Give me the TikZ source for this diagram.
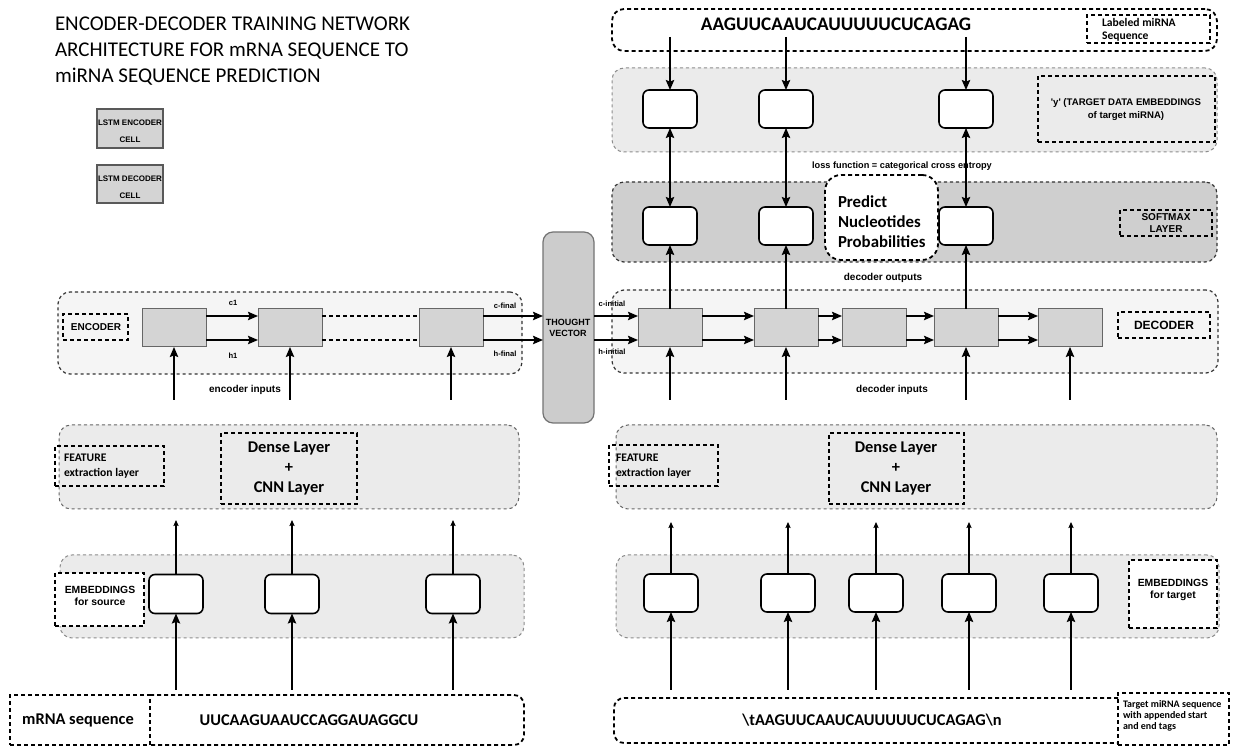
\documentclass[tikz,border=0pt]{standalone}
\usepackage{fontspec}
\setmainfont{Carlito}
\newfontfamily\arialfont{Liberation Sans}
\usetikzlibrary{arrows.meta,fit}
\begin{document}
\begin{tikzpicture}[x=0.5pt,y=-0.5pt,
  every node/.style={inner sep=0pt, outer sep=0pt},
  fitbox/.style={inner sep=0pt, outer sep=0pt},
  band/.style={fitbox, draw=black!45, fill=black!8, dash pattern=on 1.6pt off 1.4pt, line width=0.5pt, rounded corners=6pt},
  cellband/.style={band, draw=black!80, fill=black!4, line width=0.6pt},
  softband/.style={band, draw=black!80, fill=black!19, line width=0.6pt},
  featband/.style={band, draw=black!60},
  tagbox/.style={fitbox, draw=black, dash pattern=on 2pt off 1.5pt, line width=0.9pt},
  embbox/.style={draw=black, fill=white, rounded corners=3pt, line width=0.8pt, minimum width=27pt, minimum height=19pt},
  lstm/.style={draw=black!60, fill=black!17, line width=0.5pt, minimum width=32pt, minimum height=19pt},
  legendcell/.style={fitbox, draw=black!65, fill=black!17, line width=0.6pt},
  tv/.style={fitbox, draw=black!55, fill=black!20, line width=0.6pt, rounded corners=5pt},
  arr/.style={-{Stealth[length=5pt,width=4.2pt,inset=0.8pt]}, line width=0.75pt},
  darr/.style={{Stealth[length=5pt,width=4.2pt,inset=0.8pt]}-{Stealth[length=5pt,width=4.2pt,inset=0.8pt]}, line width=0.75pt},
  thinarr/.style={-{Stealth[length=3pt,width=2.6pt,inset=0.5pt]}, line width=0.6pt},
  titlefont/.style={font=\fontsize{10.5}{13}\selectfont, align=left},
  seqbig/.style={font=\fontsize{9.6}{11}\selectfont\bfseries},
  seqsmall/.style={font=\fontsize{8.2}{10}\selectfont\bfseries},
  bigbold/.style={font=\fontsize{8.2}{10}\selectfont\bfseries, align=center},
  smallcal/.style={font=\fontsize{5.8}{7.5}\selectfont\bfseries, align=left},
  arialtag/.style={font=\arialfont\bfseries\fontsize{5}{6}\selectfont, align=center},
  ariallbl/.style={font=\arialfont\bfseries\fontsize{5}{6}\selectfont},
  tinylbl/.style={font=\arialfont\bfseries\fontsize{3.8}{4.5}\selectfont}
]
\useasboundingbox (0,0) rectangle (1247,747);

% ---------- title and legend ----------
\node[titlefont, anchor=west] (title) at (55,51)
  {ENCODER-DECODER TRAINING NETWORK\\ARCHITECTURE FOR mRNA SEQUENCE TO\\miRNA SEQUENCE PREDICTION};
\node[legendcell, fit={(97,109)(163,148)}] (legenc) {};
\node[font=\arialfont\bfseries\fontsize{4}{8.5}\selectfont, align=center] (legenctxt) at (130,131) {LSTM ENCODER\\CELL};
\node[legendcell, fit={(97,165)(163,203)}] (legdec) {};
\node[font=\arialfont\bfseries\fontsize{4}{8.5}\selectfont, align=center] (legdectxt) at (130,187) {LSTM DECODER\\CELL};

% ---------- labeled target sequence ----------
\node[tagbox, fill=white, rounded corners=6pt, fit={(612,9)(1217,51)}] (lab) {};
\node[seqbig] (labseq) at (836,24) {AAGUUCAAUCAUUUUUCUCAGAG};
\node[tagbox, fit={(1087,15)(1210,43)}] (labtag) {};
\node[smallcal, anchor=west, font=\fontsize{5.8}{6.2}\selectfont\bfseries] (labtagtxt) at (1102,30) {Labeled miRNA\\Sequence};

% ---------- target data embeddings ----------
\node[band, fit={(612,68)(1217,152)}] (tband) {};
\node[embbox] (t1) at (670,109) {};
\node[embbox] (t2) at (786,109) {};
\node[embbox] (t3) at (966,109) {};
\node[tagbox, fit={(1038,76)(1215,142)}] (ytag) {};
\node[arialtag, font=\arialfont\bfseries\fontsize{4.8}{6.5}\selectfont] (ytagtxt) at (1126,110)
  {\textquotesingle y\textquotesingle{} (TARGET DATA EMBEDDINGS\\of target miRNA)};

\node[ariallbl, font=\arialfont\bfseries\fontsize{4.6}{5}\selectfont] (loss) at (902,166) {loss function = categorical cross entropy};

% ---------- softmax layer ----------
\node[softband, fit={(612,182)(1217,262)}] (sband) {};
\node[embbox] (o1) at (670,226) {};
\node[embbox] (o2) at (786,226) {};
\node[embbox] (o3) at (966,226) {};
\node[tagbox, fill=white, rounded corners=8pt, fit={(825,175)(938,260)}] (pred) {};
\node[font=\fontsize{8.4}{10}\selectfont\bfseries, align=left, anchor=west] (predtxt) at (838,222)
  {Predict\\Nucleotides\\Probabilities};
\node[tagbox, fit={(1120,210)(1212,236)}] (smtag) {};
\node[arialtag, font=\arialfont\bfseries\fontsize{5}{5.6}\selectfont] (smtagtxt) at (1166,223) {SOFTMAX\\LAYER};

\node[ariallbl] (decout) at (883,278) {decoder outputs};

% ---------- thought vector ----------
\node[tv, fit={(543,232)(594,423)}] (tv) {};
\node[arialtag, font=\arialfont\bfseries\fontsize{4.5}{5.2}\selectfont] (tvtxt) at (568,328) {THOUGHT\\VECTOR};

% ---------- encoder ----------
\node[cellband, fit={(58,292)(522,374)}] (eband) {};
\node[lstm] (e1) at (174,328) {};
\node[lstm] (e2) at (290,328) {};
\node[lstm] (e3) at (451,328) {};
\node[tagbox, fit={(63,314)(128,340)}] (etag) {};
\node[ariallbl] (etagtxt) at (96,327) {ENCODER};
\node[tinylbl] (c1) at (233,303) {c1};
\node[tinylbl] (h1) at (233,356) {h1};
\node[tinylbl] (cfin) at (505,306) {c-final};
\node[tinylbl] (hfin) at (505,354) {h-final};
\node[ariallbl] (encin) at (245,390) {encoder inputs};

% ---------- decoder ----------
\node[cellband, fit={(612,290)(1218,373)}] (dband) {};
\node[lstm] (d1) at (670,328) {};
\node[lstm] (d2) at (786,328) {};
\node[lstm] (d3) at (874,328) {};
\node[lstm] (d4) at (966,328) {};
\node[lstm] (d5) at (1070,328) {};
\node[tagbox, fit={(1118,312)(1210,338)}] (dtag) {};
\node[ariallbl, font=\arialfont\bfseries\fontsize{6}{7}\selectfont] (dtagtxt) at (1164,325) {DECODER};
\node[tinylbl] (cini) at (612,304) {c-initial};
\node[tinylbl] (hini) at (612,352) {h-initial};
\node[ariallbl] (decin) at (892,390) {decoder inputs};

% ---------- feature extraction ----------
\node[featband, fit={(59,425)(519,509)}] (fbl) {};
\node[tagbox, fit={(55,446)(164,486)}] (ftl) {};
\node[smallcal, anchor=west] (ftltxt) at (64,466) {FEATURE\\extraction layer};
\node[tagbox, fit={(221,433)(357,504)}] (dl) {};
\node[bigbold] (dltxt) at (289,468) {Dense Layer\\+\\CNN Layer};

\node[featband, fit={(616,425)(1217,509)}] (fbr) {};
\node[tagbox, fit={(609,445)(718,486)}] (ftr) {};
\node[smallcal, anchor=west] (ftrtxt) at (616,466) {FEATURE\\extraction layer};
\node[tagbox, fit={(829,433)(964,504)}] (dr) {};
\node[bigbold] (drtxt) at (896,468) {Dense Layer\\+\\CNN Layer};

% ---------- embeddings ----------
\node[band, fit={(60,555)(524,638)}] (ebl) {};
\node[embbox, minimum height=19.5pt] (s1) at (176,594) {};
\node[embbox, minimum height=19.5pt] (s2) at (292,594) {};
\node[embbox, minimum height=19.5pt] (s3) at (453,594) {};
\node[tagbox, fill=white, fit={(55,573)(144,626)}] (esrc) {};
\node[arialtag, font=\arialfont\bfseries\fontsize{5.2}{6.2}\selectfont] (esrctxt) at (100,596) {EMBEDDINGS\\for source};

\node[band, fit={(616,555)(1219,638)}] (ebr) {};
\node[embbox] (g1) at (671,593) {};
\node[embbox] (g2) at (788,593) {};
\node[embbox] (g3) at (876,593) {};
\node[embbox] (g4) at (969,593) {};
\node[embbox] (g5) at (1071,593) {};
\node[tagbox, fill=white, fit={(1129,560)(1217,628)}] (etgt) {};
\node[arialtag, font=\arialfont\bfseries\fontsize{5.2}{6.2}\selectfont] (etgttxt) at (1173,590) {EMBEDDINGS\\for target};

% ---------- input sequences ----------
\node[tagbox, fit={(10,695)(150,745)}] (mlab) {};
\node[seqsmall] (mlabtxt) at (78,720) {mRNA sequence};
\node[fitbox, fit={(150,695)(524,745)}] (mseq) {};
\draw[tagbox, rounded corners=5pt] (mseq.north west) -- (mseq.north east) -- (mseq.south east) -- (mseq.south west);
\node[seqsmall] (mseqtxt) at (309,720) {UUCAAGUAAUCCAGGAUAGGCU};

\node[fitbox, fit={(614,698)(1118,743)}] (tseq) {};
\draw[tagbox, rounded corners=5pt] (tseq.north east) -- (tseq.north west) -- (tseq.south west) -- (tseq.south east);
\node[seqsmall] (tseqtxt) at (872,720) {\textbackslash tAAGUUCAAUCAUUUUUCUCAGAG\textbackslash n};
\node[tagbox, fit={(1118,693)(1229,745)}] (tlab) {};
\node[smallcal, anchor=west, font=\fontsize{5}{5.6}\selectfont\bfseries] (tlabtxt) at (1123,716)
  {Target miRNA sequence\\with appended start\\and end tags};

% ---------- free connector ends ----------
\coordinate (la1) at (670,37);
\coordinate (la2) at (786,37);
\coordinate (la3) at (966,37);
\coordinate (ei1) at (174,400);
\coordinate (ei2) at (290,400);
\coordinate (ei3) at (451,400);
\coordinate (di1) at (670,400);
\coordinate (di2) at (786,400);
\coordinate (di4) at (966,400);
\coordinate (di5) at (1070,400);
\coordinate (ms1) at (176,690);
\coordinate (ms2) at (292,690);
\coordinate (ms3) at (453,690);
\coordinate (fl1) at (176,520);
\coordinate (fl2) at (292,520);
\coordinate (fl3) at (453,520);
\coordinate (ts1) at (671,690);
\coordinate (ts2) at (788,690);
\coordinate (ts3) at (876,690);
\coordinate (ts4) at (969,690);
\coordinate (ts5) at (1071,690);
\coordinate (fr1) at (671,522);
\coordinate (fr2) at (788,522);
\coordinate (fr3) at (876,522);
\coordinate (fr4) at (969,522);
\coordinate (fr5) at (1071,522);

% ---------- connectors ----------
\foreach \i in {1,2,3} {
  \draw[arr] (la\i) -- (t\i.north);
  \draw[darr] (t\i.south) -- (o\i.north);
}
\draw[arr] (d1.north) -- (o1.south);
\draw[arr] (d2.north) -- (o2.south);
\draw[arr] (d4.north) -- (o3.south);

% encoder chain
\draw[arr] ([yshift=6pt]e1.east) -- ([yshift=6pt]e2.west);
\draw[arr] ([yshift=-6pt]e1.east) -- ([yshift=-6pt]e2.west);
\draw[line width=0.75pt, dash pattern=on 2pt off 1.5pt] ([yshift=6pt]e2.east) -- ([yshift=6pt]e3.west);
\draw[line width=0.75pt, dash pattern=on 2pt off 1.5pt] ([yshift=-6pt]e2.east) -- ([yshift=-6pt]e3.west);
\draw[arr] ([yshift=6pt]e3.east) -- ([yshift=6pt]e3.east -| tv.west);
\draw[arr] ([yshift=-6pt]e3.east) -- ([yshift=-6pt]e3.east -| tv.west);

% decoder chain
\draw[arr] ([yshift=6pt]d1.west -| tv.east) -- ([yshift=6pt]d1.west);
\draw[arr] ([yshift=-6pt]d1.west -| tv.east) -- ([yshift=-6pt]d1.west);
\foreach \a/\b in {d1/d2,d2/d3,d3/d4,d4/d5} {
  \draw[arr] ([yshift=6pt]\a.east) -- ([yshift=6pt]\b.west);
  \draw[arr] ([yshift=-6pt]\a.east) -- ([yshift=-6pt]\b.west);
}

% inputs
\foreach \i in {1,2,3} \draw[arr] (ei\i) -- (e\i.south);
\foreach \i in {1,2,4,5} \draw[arr] (di\i) -- (d\i.south);

% source side
\foreach \i in {1,2,3} {
  \draw[arr] (ms\i) -- (s\i.south);
  \draw[thinarr] (s\i.north) -- (fl\i);
}
% target side
\foreach \i in {1,...,5} {
  \draw[arr] (ts\i) -- (g\i.south);
  \draw[thinarr] (g\i.north) -- (fr\i);
}
\end{tikzpicture}
\end{document}
